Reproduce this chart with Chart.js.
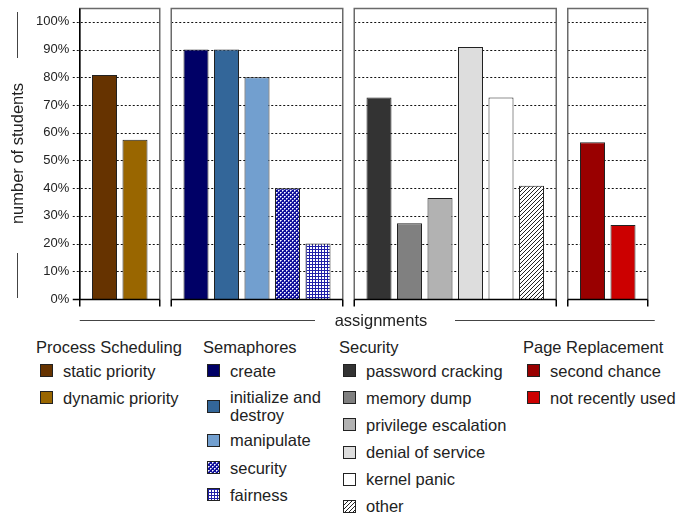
<!DOCTYPE html>
<html>
<head>
<meta charset="utf-8">
<script src="https://cdn.jsdelivr.net/npm/chart.js@4.4.1/dist/chart.umd.min.js"></script>
<style>
body { margin: 0; background: #fff; font-family: "Liberation Sans", Arial, sans-serif; color: #222; }
#wrap { position: relative; width: 691px; height: 516px; overflow: hidden; }
#c { position: absolute; left: 0; top: 0; }
#xtitle { position: absolute; left: 281px; width: 200px; top: 310.8px; text-align: center; font-size: 16.5px; line-height: 18.4px; }
.col { position: absolute; top: 337.6px; font-size: 16.5px; line-height: 18.4px; }
.col .ttl { margin-bottom: 1.2px; white-space: nowrap; }
.item { display: flex; align-items: center; min-height: 22.2px; padding: 2.5px 0 2.4px 4px; }
.sw { width: 11px; height: 11px; border: 1px solid #222; margin-right: 10px; flex: none; image-rendering: pixelated; }
.txt { white-space: nowrap; }
.narrow .txt { white-space: normal; width: 104px; }
.narrow .item.two { min-height: 22.2px; padding-top: 3.5px; padding-bottom: 2.5px; }
</style>
</head>
<body>
<div id="wrap">
  <canvas id="c" width="691" height="330"></canvas>
  <div id="xtitle">assignments</div>
  <div id="legend"></div>
</div>
<script>
// data (percent of students)
const groupNames = ['Process Scheduling', 'Semaphores', 'Security', 'Page Replacement'];

const schedLabels = ['static priority', 'dynamic priority'];
const schedValues = [80.8, 57.5];

const semLabels = ['create', 'initialize and destroy', 'manipulate', 'security', 'fairness'];
const semValues = [90, 90, 80, 40, 20];

const secLabels = ['password cracking', 'memory dump', 'privilege escalation', 'denial of service', 'kernel panic', 'other'];
const secValues = [72.7, 27.3, 36.4, 90.9, 72.7, 40.9];

const pageLabels = ['second chance', 'not recently used'];
const pageValues = [56.6, 26.7];

const yTicks = [0, 10, 20, 30, 40, 50, 60, 70, 80, 90, 100];

// styles
const schedColors = ['#663300', '#996600'];
const semColors = ['#000066', '#336699', '#729fcf', 'checker', 'grid'];
const secColors = ['#333333', '#808080', '#b2b2b2', '#dddddd', '#ffffff', 'hatch'];
const pageColors = ['#990000', '#cc0000'];

const canvas = document.getElementById('c');
const ctx = canvas.getContext('2d');

function makeTile(kind) {
    const t = document.createElement('canvas');
    const g = t.getContext('2d');
    if (kind === 'checker') {
        t.width = t.height = 4;
        g.fillStyle = '#10109a';
        g.fillRect(0, 0, 4, 4);
        g.fillStyle = '#ffffff';
        g.fillRect(0, 0, 1, 1);
        g.fillRect(2, 2, 1, 1);
        g.fillStyle = '#9a9ae0';
        g.fillRect(1, 0, 1, 1);
        g.fillRect(0, 1, 1, 1);
        g.fillRect(3, 2, 1, 1);
        g.fillRect(2, 3, 1, 1);
    } else if (kind === 'grid') {
        t.width = t.height = 3;
        g.fillStyle = '#ffffff';
        g.fillRect(0, 0, 3, 3);
        g.fillStyle = '#2020a8';
        g.fillRect(0, 0, 3, 1);
        g.fillRect(0, 0, 1, 3);
    } else {
        t.width = t.height = 4;
        g.fillStyle = '#ffffff';
        g.fillRect(0, 0, 4, 4);
        g.fillStyle = '#222222';
        for (let i = 0; i < 4; i++) g.fillRect(i, 3 - i, 1, 1);
    }
    return t;
}

const tiles = {};
['checker', 'grid', 'hatch'].forEach(k => tiles[k] = makeTile(k));

function fillOf(c) {
    return tiles[c] ? ctx.createPattern(tiles[c], 'repeat') : c;
}

const groupLabels = [schedLabels, semLabels, secLabels, pageLabels];
const groupValues = [schedValues, semValues, secValues, pageValues];
const groupColors = [schedColors, semColors, secColors, pageColors];

// one empty slot between panels
let labels = [];
let values = [];
let fills = [];
let ranges = [];
groupLabels.forEach((ls, g) => {
    if (g > 0) {
        labels.push('');
        values.push(null);
        fills.push('#fff');
    }
    ranges.push([labels.length, labels.length + ls.length - 1]);
    ls.forEach((l, i) => {
        labels.push(l);
        values.push(groupValues[g][i]);
        fills.push(fillOf(groupColors[g][i]));
    });
});

const PAD = 9.5;

function panelBoxes(chart) {
    const x = chart.scales.x;
    const slot = (x.right - x.left) / labels.length;
    return ranges.map(r => ({
        left: x.getPixelForValue(r[0]) - slot / 2 - PAD,
        right: x.getPixelForValue(r[1]) + slot / 2 + PAD,
    }));
}

const panels = {
    id: 'panels',
    beforeDatasetsDraw(chart) {
        const c = chart.ctx;
        const y = chart.scales.y;
        const boxes = panelBoxes(chart);
        c.save();
        c.strokeStyle = '#111';
        c.lineWidth = 1;
        c.setLineDash([2, 2]);
        yTicks.slice(1).forEach(v => {
            const py = Math.round(y.getPixelForValue(v)) + 0.5;
            boxes.forEach((b, i) => {
                c.beginPath();
                c.moveTo(i === 0 ? b.left - 7 : b.left, py);
                c.lineTo(b.right, py);
                c.stroke();
            });
        });
        c.restore();
    },
    afterDatasetsDraw(chart) {
        const c = chart.ctx;
        const y = chart.scales.y;
        const boxes = panelBoxes(chart);
        const top = chart.chartArea.top + 0.5;
        const base = Math.round(y.getPixelForValue(0)) + 0.5;
        c.save();
        boxes.forEach((b, i) => {
            c.strokeStyle = '#6a6a6a';
            c.lineWidth = 1.5;
            c.beginPath();
            c.moveTo(b.left, base);
            c.lineTo(b.left, top);
            c.lineTo(b.right, top);
            c.lineTo(b.right, base);
            c.stroke();
            c.strokeStyle = '#000';
            c.lineWidth = 1.5;
            c.beginPath();
            c.moveTo(i === 0 ? b.left - 7 : b.left, base);
            c.lineTo(b.right, base);
            c.moveTo(b.left, base);
            c.lineTo(b.left, base + 7);
            c.moveTo(b.right, base);
            c.lineTo(b.right, base + 7);
            if (i === 0) {
                c.moveTo(b.left, base);
                c.lineTo(b.left, top);
            }
            c.stroke();
        });
        // rules beside the axis titles
        c.strokeStyle = '#444';
        c.lineWidth = 1;
        c.beginPath();
        c.moveTo(17.5, 12);
        c.lineTo(17.5, 58);
        c.moveTo(17.5, 253);
        c.lineTo(17.5, 298);
        c.moveTo(boxes[0].left, 320.5);
        c.lineTo(315, 320.5);
        c.moveTo(455, 320.5);
        c.lineTo(boxes[3].right + 7, 320.5);
        c.stroke();
        c.restore();
    }
};

new Chart(ctx, {
    type: 'bar',
    data: {
        labels: labels,
        datasets: [{
            data: values,
            backgroundColor: fills,
            borderColor: '#222',
            borderWidth: 1,
            barPercentage: 0.82,
            categoryPercentage: 1,
        }]
    },
    options: {
        responsive: false,
        animation: false,
        layout: { padding: { left: 0, right: 52.75, top: 8, bottom: 31 } },
        plugins: { legend: { display: false }, tooltip: { enabled: false } },
        scales: {
            x: { display: false },
            y: {
                min: 0,
                max: 105,
                afterFit(scale) {
                    scale.width = 89.25;
                    scale.paddingTop = 0;
                    scale.paddingBottom = 0;
                },
                afterBuildTicks(scale) { scale.ticks = yTicks.map(v => ({ value: v })); },
                grid: { display: false, drawTicks: false },
                border: { display: false },
                ticks: {
                    padding: 20,
                    color: '#222',
                    font: { family: 'Liberation Sans', size: 13 },
                    callback: v => v + '%',
                },
                title: {
                    display: true,
                    text: 'number of students',
                    color: '#222',
                    font: { family: 'Liberation Sans', size: 16.5 },
                    padding: { top: 8.1, bottom: 0 },
                },
            }
        }
    },
    plugins: [panels]
});

// grouped legend below the chart
const colLefts = [36, 203, 339, 523];
const legend = document.getElementById('legend');
groupNames.forEach((name, g) => {
    const col = document.createElement('div');
    col.className = 'col' + (g === 1 ? ' narrow' : '');
    col.style.left = colLefts[g] + 'px';
    const ttl = document.createElement('div');
    ttl.className = 'ttl';
    ttl.textContent = name;
    col.appendChild(ttl);
    groupLabels[g].forEach((l, i) => {
        const item = document.createElement('div');
        item.className = 'item' + (l.length > 14 && g === 1 ? ' two' : '');
        const sw = document.createElement('span');
        sw.className = 'sw';
        const c = groupColors[g][i];
        if (tiles[c]) sw.style.backgroundImage = 'url(' + tiles[c].toDataURL() + ')';
        else sw.style.background = c;
        const t = document.createElement('span');
        t.className = 'txt';
        t.textContent = l;
        item.appendChild(sw);
        item.appendChild(t);
        col.appendChild(item);
    });
    legend.appendChild(col);
});
</script>
</body>
</html>
